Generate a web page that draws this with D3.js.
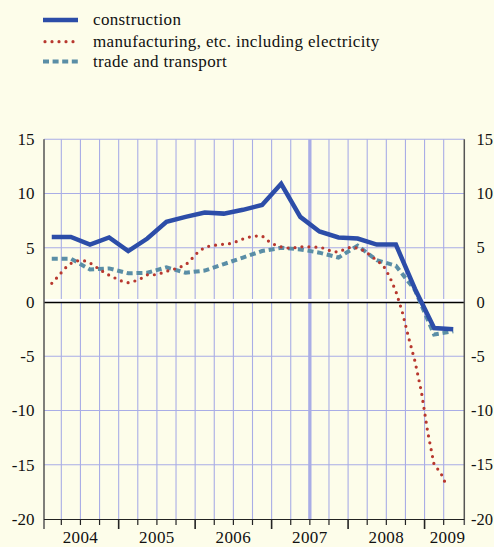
<!DOCTYPE html>
<html>
<head>
<meta charset="utf-8">
<script src="https://cdn.jsdelivr.net/npm/d3@7"></script>
<style>
  html, body { margin: 0; padding: 0; background: #fdfdea; }
  svg { display: block; }
  text { fill: #111; }
</style>
</head>
<body>
<svg id="chart" width="494" height="547" font-family="'Liberation Serif', 'Times New Roman', Times, serif"></svg>
<script>
// Annual growth, per cent. Quarterly series start 2004 Q1, monthly series Feb 2004.
const seriesNames = ["construction", "manufacturing, etc. including electricity", "trade and transport"];
const years = ["2004", "2005", "2006", "2007", "2008", "2009"];
const yTicks = [-20, -15, -10, -5, 0, 5, 10, 15];

// quarterly, 2004 Q1 – 2009 Q2
const construction = [6.0, 6.0, 5.3, 5.95, 4.7, 5.85, 7.4, 7.85, 8.25, 8.15, 8.5, 8.95,
                      10.9, 7.85, 6.5, 5.95, 5.85, 5.3, 5.3, 1.2, -2.4, -2.5];
const trade = [4.0, 4.0, 3.0, 3.1, 2.65, 2.7, 3.2, 2.7, 2.9, 3.5, 4.1, 4.7,
               5.0, 4.85, 4.55, 4.1, 5.2, 3.85, 3.35, 1.1, -3.0, -2.7];
// monthly, Feb 2004 – Apr 2009
const manufacturing = [1.72, 2.36, 3.07, 3.56, 3.80, 3.82, 3.61, 3.21, 2.82, 2.47, 2.19,
                       1.92, 1.78, 1.93, 2.17, 2.51, 2.50, 2.63, 2.83, 2.99, 3.20, 3.41,
                       4.0, 4.64, 5.03, 5.2, 5.26, 5.33, 5.39, 5.57, 5.81, 5.99, 6.08,
                       6.1, 5.62, 5.28, 5.08, 4.98, 4.99, 5.09, 5.09, 5.05, 5.07, 4.9,
                       4.65, 4.62, 4.87, 5.08, 4.95, 4.73, 4.3, 3.83, 3.39, 2.36, 0.98,
                       -0.9, -3.28, -5.47, -8.26, -12.0, -15.0, -15.7, -17.0];

const colors = { construction: "#2c4da8", manufacturing: "#b8382f", trade: "#5a8ea6" };
const gridColor = "#a9ade6";

const svg = d3.select("#chart");
svg.append("rect").attr("width", 494).attr("height", 547).attr("fill", "#fdfdea");

const axisLeftX = 44, axisRightX = 464.3;
const x = d3.scaleLinear().domain([0, 66]).range([42.2, 462.8]); // months since Jan 2004
const y = d3.scaleLinear().domain([-20, 15]).range([519, 139.3]);

// vertical grid at quarter boundaries, heavier line mid-2007
const g = svg.append("g");
d3.range(3, 66, 3).forEach(m => {
  g.append("line")
    .attr("x1", x(m)).attr("x2", x(m))
    .attr("y1", y(15)).attr("y2", y(-20))
    .attr("stroke", gridColor)
    .attr("stroke-width", m === 42 ? 3.3 : 1.1);
});
// horizontal grid
yTicks.filter(v => v !== 0 && v !== -20).forEach(v => {
  g.append("line")
    .attr("x1", axisLeftX).attr("x2", axisRightX)
    .attr("y1", y(v)).attr("y2", y(v))
    .attr("stroke", gridColor).attr("stroke-width", 1.1);
});
// zero line with a white band above
g.append("line").attr("x1", axisLeftX).attr("x2", axisRightX)
  .attr("y1", y(0) - 1.6).attr("y2", y(0) - 1.6)
  .attr("stroke", "#ffffff").attr("stroke-width", 3);
g.append("line").attr("x1", axisLeftX).attr("x2", axisRightX)
  .attr("y1", y(0) + 0.5).attr("y2", y(0) + 0.5)
  .attr("stroke", "#000").attr("stroke-width", 1.4);

// axes frame
g.append("line").attr("x1", axisLeftX).attr("x2", axisLeftX)
  .attr("y1", y(15)).attr("y2", y(-20) + 10)
  .attr("stroke", "#555").attr("stroke-width", 1.5);
g.append("line").attr("x1", axisRightX).attr("x2", axisRightX)
  .attr("y1", y(15)).attr("y2", y(-20) + 6)
  .attr("stroke", "#555").attr("stroke-width", 1.5);
g.append("line").attr("x1", axisLeftX).attr("x2", axisRightX)
  .attr("y1", y(-20) + 0.5).attr("y2", y(-20) + 0.5)
  .attr("stroke", "#222").attr("stroke-width", 1.2);
d3.range(3, 66, 3).forEach(m => {
  const big = m % 12 === 0;
  g.append("line")
    .attr("x1", x(m)).attr("x2", x(m))
    .attr("y1", y(-20)).attr("y2", y(-20) + (big ? 10 : 6))
    .attr("stroke", "#222").attr("stroke-width", big ? 1.6 : 1.2);
});

// y tick labels, both sides
yTicks.forEach(v => {
  svg.append("text")
    .attr("x", 34.5).attr("y", y(v))
    .attr("dy", "0.34em")
    .attr("text-anchor", "end")
    .attr("font-size", 17)
    .text(v);
  svg.append("text")
    .attr("x", 476.5).attr("y", y(v))
    .attr("dy", "0.34em")
    .attr("dx", v < 0 ? -5.5 : 0)
    .attr("text-anchor", "start")
    .attr("font-size", 16.5)
    .text(v);
});

// year labels
years.forEach((yr, i) => {
  const cx = x(i * 12 + 6);
  const overflow = cx + 18 > axisRightX;
  svg.append("text")
    .attr("x", overflow ? axisRightX + 1 : cx)
    .attr("y", 543)
    .attr("text-anchor", overflow ? "end" : "middle")
    .attr("font-size", 17)
    .attr("letter-spacing", 0.4)
    .text(yr);
});

// series
const qLine = d3.line().x((d, i) => x(i * 3 + 1.5)).y(d => y(d));
const mLine = d3.line().x((d, i) => x(i + 1.5)).y(d => y(d));

svg.append("path").datum(trade)
  .attr("d", qLine)
  .attr("fill", "none")
  .attr("stroke", colors.trade)
  .attr("stroke-width", 4)
  .attr("stroke-dasharray", "6 3.8");

svg.append("path").datum(manufacturing)
  .attr("d", mLine)
  .attr("fill", "none")
  .attr("stroke", colors.manufacturing)
  .attr("stroke-width", 3.2)
  .attr("stroke-linecap", "round")
  .attr("stroke-dasharray", "0 7");

svg.append("path").datum(construction)
  .attr("d", qLine)
  .attr("fill", "none")
  .attr("stroke", colors.construction)
  .attr("stroke-width", 4.5)
  .attr("stroke-linejoin", "miter");

// legend
const legend = svg.append("g");
const legendRows = [
  { name: seriesNames[0], y: 20, stroke: colors.construction, w: 4.5, dash: null, cap: "butt" },
  { name: seriesNames[1], y: 41.7, stroke: colors.manufacturing, w: 3.2, dash: "0 7", cap: "round" },
  { name: seriesNames[2], y: 61.5, stroke: colors.trade, w: 4, dash: "6 3.6", cap: "butt" }
];
legendRows.forEach(r => {
  legend.append("line")
    .attr("x1", r.cap === "round" ? 45 : 43).attr("x2", 78)
    .attr("y1", r.y).attr("y2", r.y)
    .attr("stroke", r.stroke)
    .attr("stroke-width", r.w)
    .attr("stroke-linecap", r.cap)
    .attr("stroke-dasharray", r.dash);
  legend.append("text")
    .attr("x", 93).attr("y", r.y + 5)
    .attr("font-size", 17)
    .attr("letter-spacing", 0.35)
    .text(r.name);
});
</script>
</body>
</html>
